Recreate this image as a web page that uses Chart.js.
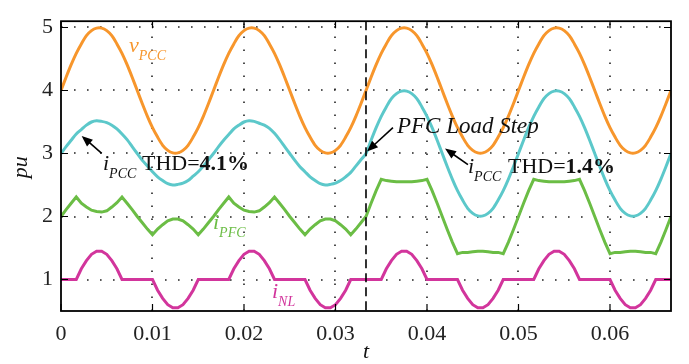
<!DOCTYPE html>
<html lang="en">
<head>
    <meta charset="UTF-8">
    <title>PFC Load Step</title>
    <script src="https://cdn.jsdelivr.net/npm/chart.js"></script>
    <style>
        html, body { margin: 0; padding: 0; background: #fff; }
        .chart-container { position: relative; width: 689px; height: 364px; }
    </style>
</head>
<body>
<div class="chart-container"><canvas id="pfcChart"></canvas></div>
<script>
    // time axis (s), 4 line cycles at 60 Hz
    const t = [
        0, 0.000556, 0.001111, 0.001667, 0.002222, 0.002778, 0.003333, 0.003889, 0.004444, 0.005,
        0.005556, 0.006111, 0.006667, 0.007222, 0.007778, 0.008333, 0.008889, 0.009444, 0.01, 0.010556,
        0.011111, 0.011667, 0.012222, 0.012778, 0.013333, 0.013889, 0.014444, 0.015, 0.015556, 0.016111,
        0.016667, 0.017222, 0.017778, 0.018333, 0.018889, 0.019444, 0.02, 0.020556, 0.021111, 0.021667,
        0.022222, 0.022778, 0.023333, 0.023889, 0.024444, 0.025, 0.025556, 0.026111, 0.026667, 0.027222,
        0.027778, 0.028333, 0.028889, 0.029444, 0.03, 0.030556, 0.031111, 0.031667, 0.032222, 0.032778,
        0.033333, 0.033889, 0.034444, 0.035, 0.035556, 0.036111, 0.036667, 0.037222, 0.037778, 0.038333,
        0.038889, 0.039444, 0.04, 0.040556, 0.041111, 0.041667, 0.042222, 0.042778, 0.043333, 0.043889,
        0.044444, 0.045, 0.045556, 0.046111, 0.046667, 0.047222, 0.047778, 0.048333, 0.048889, 0.049444,
        0.05, 0.050556, 0.051111, 0.051667, 0.052222, 0.052778, 0.053333, 0.053889, 0.054444, 0.055,
        0.055556, 0.056111, 0.056667, 0.057222, 0.057778, 0.058333, 0.058889, 0.059444, 0.06, 0.060556,
        0.061111, 0.061667, 0.062222, 0.062778, 0.063333, 0.063889, 0.064444, 0.065, 0.065556, 0.066111,
        0.066667
    ];

    const vPCC = [
        4.00, 4.21, 4.41, 4.59, 4.74, 4.87, 4.95, 4.99, 4.99, 4.95, 4.87, 4.74, 4.59, 4.41, 4.21,
        4.00, 3.79, 3.59, 3.41, 3.26, 3.13, 3.05, 3.01, 3.01, 3.05, 3.13, 3.26, 3.41, 3.59, 3.79,
        4.00, 4.21, 4.41, 4.59, 4.74, 4.87, 4.95, 4.99, 4.99, 4.95, 4.87, 4.74, 4.59, 4.41, 4.21,
        4.00, 3.79, 3.59, 3.41, 3.26, 3.13, 3.05, 3.01, 3.01, 3.05, 3.13, 3.26, 3.41, 3.59, 3.79,
        4.00, 4.21, 4.41, 4.59, 4.74, 4.87, 4.95, 4.99, 4.99, 4.95, 4.87, 4.74, 4.59, 4.41, 4.21,
        4.00, 3.79, 3.59, 3.41, 3.26, 3.13, 3.05, 3.01, 3.01, 3.05, 3.13, 3.26, 3.41, 3.59, 3.79,
        4.00, 4.21, 4.41, 4.59, 4.74, 4.87, 4.95, 4.99, 4.99, 4.95, 4.87, 4.74, 4.59, 4.41, 4.21,
        4.00, 3.79, 3.59, 3.41, 3.26, 3.13, 3.05, 3.01, 3.01, 3.05, 3.13, 3.26, 3.41, 3.59, 3.79,
        4.00
    ];

    const iPCC = [
        3.00, 3.11, 3.21, 3.31, 3.38, 3.45, 3.50, 3.52, 3.51, 3.49, 3.45, 3.39, 3.31, 3.22, 3.11,
        3.00, 2.89, 2.80, 2.71, 2.63, 2.57, 2.52, 2.50, 2.51, 2.53, 2.57, 2.64, 2.71, 2.80, 2.90,
        3.00, 3.11, 3.21, 3.30, 3.39, 3.45, 3.50, 3.52, 3.51, 3.48, 3.45, 3.40, 3.32, 3.22, 3.11,
        3.00, 2.89, 2.79, 2.71, 2.63, 2.57, 2.52, 2.50, 2.51, 2.53, 2.57, 2.63, 2.70, 2.80, 2.90,
        3.00, 3.21, 3.41, 3.59, 3.74, 3.87, 3.95, 3.99, 3.99, 3.95, 3.87, 3.74, 3.59, 3.41, 3.21,
        3.00, 2.79, 2.59, 2.41, 2.26, 2.13, 2.05, 2.01, 2.01, 2.05, 2.13, 2.26, 2.41, 2.59, 2.79,
        3.00, 3.21, 3.41, 3.59, 3.74, 3.87, 3.95, 3.99, 3.99, 3.95, 3.87, 3.74, 3.59, 3.41, 3.21,
        3.00, 2.79, 2.59, 2.41, 2.26, 2.13, 2.05, 2.01, 2.01, 2.05, 2.13, 2.26, 2.41, 2.59, 2.79,
        3.00
    ];

    const iPFC = [
        2.00, 2.11, 2.21, 2.31, 2.21, 2.15, 2.10, 2.08, 2.07, 2.09, 2.15, 2.22, 2.31, 2.21, 2.11,
        2.00, 1.90, 1.80, 1.71, 1.80, 1.87, 1.93, 1.96, 1.96, 1.93, 1.87, 1.80, 1.71, 1.80, 1.90,
        2.00, 2.11, 2.21, 2.31, 2.21, 2.15, 2.10, 2.08, 2.07, 2.09, 2.15, 2.22, 2.31, 2.21, 2.11,
        2.00, 1.90, 1.80, 1.71, 1.80, 1.87, 1.93, 1.96, 1.96, 1.93, 1.87, 1.80, 1.71, 1.80, 1.90,
        2.00, 2.21, 2.41, 2.59, 2.57, 2.56, 2.55, 2.55, 2.55, 2.55, 2.56, 2.57, 2.59, 2.41, 2.21,
        2.00, 1.79, 1.59, 1.41, 1.43, 1.43, 1.44, 1.45, 1.45, 1.44, 1.43, 1.43, 1.41, 1.59, 1.79,
        2.00, 2.21, 2.41, 2.59, 2.57, 2.56, 2.55, 2.55, 2.55, 2.55, 2.56, 2.57, 2.59, 2.41, 2.21,
        2.00, 1.79, 1.59, 1.41, 1.43, 1.43, 1.44, 1.45, 1.45, 1.44, 1.43, 1.43, 1.41, 1.59, 1.79,
        2.00
    ];

    const iNL = [
        1.00, 1.00, 1.00, 1.00, 1.17, 1.30, 1.40, 1.45, 1.45, 1.40, 1.30, 1.17, 1.00, 1.00, 1.00,
        1.00, 1.00, 1.00, 1.00, 0.83, 0.70, 0.60, 0.55, 0.55, 0.60, 0.70, 0.83, 1.00, 1.00, 1.00,
        1.00, 1.00, 1.00, 1.00, 1.17, 1.30, 1.40, 1.45, 1.45, 1.40, 1.30, 1.17, 1.00, 1.00, 1.00,
        1.00, 1.00, 1.00, 1.00, 0.83, 0.70, 0.60, 0.55, 0.55, 0.60, 0.70, 0.83, 1.00, 1.00, 1.00,
        1.00, 1.00, 1.00, 1.00, 1.17, 1.30, 1.40, 1.45, 1.45, 1.40, 1.30, 1.17, 1.00, 1.00, 1.00,
        1.00, 1.00, 1.00, 1.00, 0.83, 0.70, 0.60, 0.55, 0.55, 0.60, 0.70, 0.83, 1.00, 1.00, 1.00,
        1.00, 1.00, 1.00, 1.00, 1.17, 1.30, 1.40, 1.45, 1.45, 1.40, 1.30, 1.17, 1.00, 1.00, 1.00,
        1.00, 1.00, 1.00, 1.00, 0.83, 0.70, 0.60, 0.55, 0.55, 0.60, 0.70, 0.83, 1.00, 1.00, 1.00,
        1.00
    ];

    const xTicks = [0, 0.01, 0.02, 0.03, 0.04, 0.05, 0.06];
    const yTicks = [1, 2, 3, 4, 5];
    const stepTime = 0.033333;  // PFC load step

    const SERIF = '"Liberation Serif", "Times New Roman", serif';
    const ORANGE = '#F7962C', CYAN = '#5CC8CA', GREEN = '#6BBD45', MAGENTA = '#D2359C';

    function points(values) {
        return values.map((v, i) => ({ x: t[i], y: v }));
    }

    // text pieces drawn one after the other (main letter + subscript etc.)
    function drawParts(ctx, x, y, parts, color) {
        ctx.fillStyle = color;
        ctx.textAlign = 'left';
        ctx.textBaseline = 'alphabetic';
        parts.forEach(p => {
            ctx.font = (p.italic ? 'italic ' : '') + (p.bold ? 'bold ' : '') + p.size + 'px ' + SERIF;
            ctx.fillText(p.text, x, y + (p.dy || 0));
            x += ctx.measureText(p.text).width;
        });
    }

    function drawArrow(ctx, x1, y1, x2, y2) {
        const a = Math.atan2(y2 - y1, x2 - x1);
        const len = 11, half = 4.5;
        ctx.save();
        ctx.strokeStyle = '#000';
        ctx.fillStyle = '#000';
        ctx.lineWidth = 1.6;
        ctx.beginPath();
        ctx.moveTo(x1, y1);
        ctx.lineTo(x2 - Math.cos(a) * len * 0.7, y2 - Math.sin(a) * len * 0.7);
        ctx.stroke();
        ctx.beginPath();
        ctx.moveTo(x2, y2);
        ctx.lineTo(x2 - len * Math.cos(a) + half * Math.sin(a), y2 - len * Math.sin(a) - half * Math.cos(a));
        ctx.lineTo(x2 - len * Math.cos(a) - half * Math.sin(a), y2 - len * Math.sin(a) + half * Math.cos(a));
        ctx.closePath();
        ctx.fill();
        ctx.restore();
    }

    const figurePlugin = {
        id: 'figure',
        beforeDatasetsDraw(chart) {
            const { ctx, chartArea: a, scales: { x, y } } = chart;
            ctx.save();
            ctx.strokeStyle = '#222';
            ctx.lineWidth = 1.6;
            ctx.setLineDash([1.6, 11.4]);
            xTicks.forEach(v => {
                const px = Math.round(x.getPixelForValue(v));
                if (px <= a.left + 1) return;
                ctx.beginPath(); ctx.moveTo(px, a.bottom); ctx.lineTo(px, a.top); ctx.stroke();
            });
            yTicks.forEach(v => {
                const py = Math.round(y.getPixelForValue(v));
                ctx.beginPath(); ctx.moveTo(a.left, py); ctx.lineTo(a.right, py); ctx.stroke();
            });
            ctx.restore();
        },
        afterDatasetsDraw(chart) {
            const { ctx, chartArea: a, scales: { x, y } } = chart;
            ctx.save();

            // load step marker
            const sx = x.getPixelForValue(stepTime);
            ctx.strokeStyle = '#000';
            ctx.lineWidth = 1.6;
            ctx.setLineDash([9, 5]);
            ctx.beginPath(); ctx.moveTo(sx, a.top); ctx.lineTo(sx, a.bottom); ctx.stroke();
            ctx.setLineDash([]);

            // box and inward ticks
            ctx.lineWidth = 1.8;
            ctx.strokeRect(a.left, a.top, a.right - a.left, a.bottom - a.top);
            ctx.lineWidth = 1.2;
            xTicks.forEach(v => {
                const px = x.getPixelForValue(v);
                ctx.beginPath();
                ctx.moveTo(px, a.bottom); ctx.lineTo(px, a.bottom - 7);
                ctx.moveTo(px, a.top); ctx.lineTo(px, a.top + 7);
                ctx.stroke();
            });
            yTicks.forEach(v => {
                const py = y.getPixelForValue(v);
                ctx.beginPath();
                ctx.moveTo(a.left, py); ctx.lineTo(a.left + 7, py);
                ctx.moveTo(a.right, py); ctx.lineTo(a.right - 7, py);
                ctx.stroke();
            });

            const X = v => x.getPixelForValue(v), Y = v => y.getPixelForValue(v);

            // curve labels
            drawParts(ctx, X(0.00743), Y(4.614), [
                { text: 'v', italic: true, size: 22 },
                { text: 'PCC', italic: true, size: 14, dy: 8 }
            ], ORANGE);
            drawParts(ctx, X(0.01661), Y(1.798), [
                { text: 'i', italic: true, size: 22 },
                { text: 'PFC', italic: true, size: 14, dy: 8 }
            ], GREEN);
            drawParts(ctx, X(0.02306), Y(0.699), [
                { text: 'i', italic: true, size: 22 },
                { text: 'NL', italic: true, size: 14, dy: 8 }
            ], MAGENTA);

            // THD notes
            drawParts(ctx, X(0.00459), Y(2.732), [
                { text: 'i', italic: true, size: 22 },
                { text: 'PCC', italic: true, size: 14, dy: 8 }
            ], '#111');
            drawParts(ctx, X(0.00885), Y(2.732), [
                { text: 'THD=', size: 22 },
                { text: '4.1%', bold: true, size: 22 }
            ], '#111');
            drawParts(ctx, X(0.04448), Y(2.687), [
                { text: 'i', italic: true, size: 22 },
                { text: 'PCC', italic: true, size: 14, dy: 8 }
            ], '#111');
            drawParts(ctx, X(0.04885), Y(2.687), [
                { text: 'THD=', size: 22 },
                { text: '1.4%', bold: true, size: 22 }
            ], '#111');
            drawParts(ctx, X(0.03672), Y(3.319), [
                { text: 'PFC Load Step', italic: true, size: 23 }
            ], '#111');

            drawArrow(ctx, X(0.00445), Y(3.003), X(0.00226), Y(3.279));
            drawArrow(ctx, X(0.03628), Y(3.41), X(0.03344), Y(3.033));
            drawArrow(ctx, X(0.04448), Y(2.822), X(0.04197), Y(3.078));

            // axis titles
            ctx.fillStyle = '#111';
            ctx.font = 'italic 22px ' + SERIF;
            ctx.textAlign = 'center';
            ctx.textBaseline = 'middle';
            ctx.fillText('t', (a.left + a.right) / 2, a.bottom + 41);
            ctx.translate(a.left - 40, Y(2.78));
            ctx.rotate(-Math.PI / 2);
            ctx.fillText('pu', 0, 0);
            ctx.restore();
        }
    };

    const line = (values, color, tension) => ({
        data: points(values),
        borderColor: color,
        borderWidth: 3,
        pointRadius: 0,
        tension: tension,
        fill: false
    });

    new Chart(document.getElementById('pfcChart'), {
        type: 'line',
        data: {
            datasets: [
                line(iNL, MAGENTA, 0),
                line(iPFC, GREEN, 0),
                line(iPCC, CYAN, 0.3),
                line(vPCC, ORANGE, 0.3)
            ]
        },
        options: {
            responsive: true,
            maintainAspectRatio: false,
            animation: false,
            layout: { padding: { top: 6, right: 18, left: 0, bottom: 0 } },
            plugins: { legend: { display: false }, tooltip: { enabled: false } },
            scales: {
                x: {
                    type: 'linear',
                    min: 0,
                    max: 0.066667,
                    afterBuildTicks: s => { s.ticks = xTicks.map(v => ({ value: v })); },
                    afterFit: s => { s.height = 53; },
                    grid: { display: false, drawTicks: false },
                    border: { display: false },
                    ticks: {
                        padding: 10,
                        color: '#222',
                        font: { family: SERIF, size: 22 },
                        maxRotation: 0,
                        callback: v => (v === 0 ? '0' : v.toFixed(2))
                    }
                },
                y: {
                    min: 0.5,
                    max: 5.1,
                    afterBuildTicks: s => { s.ticks = yTicks.map(v => ({ value: v })); },
                    afterFit: s => { s.width = 61; },
                    grid: { display: false, drawTicks: false },
                    border: { display: false },
                    ticks: {
                        padding: 8,
                        color: '#222',
                        font: { family: SERIF, size: 22 },
                        callback: v => String(v)
                    }
                }
            }
        },
        plugins: [figurePlugin]
    });
</script>
</body>
</html>
